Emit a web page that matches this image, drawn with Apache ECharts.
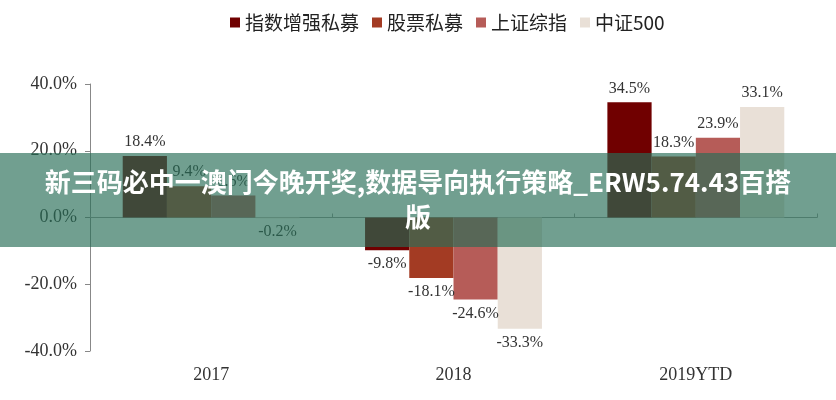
<!DOCTYPE html>
<html>
<head>
<meta charset="utf-8">
<script src="https://cdn.jsdelivr.net/npm/echarts@6/dist/echarts.min.js"></script>
<style>
  html, body { margin: 0; padding: 0; background: #fff; }
  #chart { width: 836px; height: 400px; }
</style>
</head>
<body>
<div id="chart"></div>
<script>
// 类目
const years = ['2017', '2018', '2019YTD'];
const seriesNames = ['指数增强私募', '股票私募', '上证综指', '中证500'];
// 各系列收益率 (%)
const indexEnhanced = [18.4, -9.8, 34.5];
const stockPrivate = [9.4, -18.1, 18.3];
const shComposite = [6.6, -24.6, 23.9];
const csi500 = [-0.2, -33.3, 33.1];
const yTicks = [-40, -20, 0, 20, 40];

const colors = ['#700000', '#a33b23', '#b65c58', '#e9e0d7'];
const serif = '"Liberation Serif", "DejaVu Serif", serif';
const bannerText = '新三码必中一澳门今晚开奖,数据导向执行策略_ERW5.74.43百搭\n版';

/**
 * 正值标签在上，负值标签在下
 */
const makeData = (values) => values.map(v => ({
  value: v,
  label: { position: v < 0 ? 'bottom' : 'top' },
}));

const allValues = [indexEnhanced, stockPrivate, shComposite, csi500];

const option = {
  color: colors,
  animation: false,
  legend: {
    top: 8,
    left: 225,
    icon: 'rect',
    itemWidth: 10,
    itemHeight: 10,
    itemGap: 13,
    textStyle: {
      fontFamily: '"Noto Sans CJK SC", sans-serif',
      fontSize: 19,
      color: '#222',
    },
    data: seriesNames,
  },
  grid: {
    top: 84,
    bottom: 49,
    left: 90,
    right: 19,
  },
  xAxis: [{
    type: 'category',
    data: years,
    position: 'bottom',
    axisLine: { show: false, onZero: false },
    axisTick: { show: false },
    axisLabel: {
      margin: 15,
      fontFamily: serif,
      fontSize: 18,
      color: '#333',
    },
  }, {
    type: 'category',
    data: years,
    position: 'top',
    axisLine: { onZero: true, lineStyle: { color: '#999' } },
    axisTick: { show: true, length: 4, lineStyle: { color: '#999' } },
    axisLabel: { show: false },
  }],
  yAxis: {
    type: 'value',
    min: yTicks[0],
    max: yTicks[yTicks.length - 1],
    interval: 20,
    splitLine: { show: false },
    axisLine: { show: true, lineStyle: { color: '#888' } },
    axisTick: { show: true, length: 5, lineStyle: { color: '#888' } },
    axisLabel: {
      margin: 13,
      fontFamily: serif,
      fontSize: 18,
      color: '#333',
      formatter: v => v.toFixed(1) + '%',
    },
  },
  series: seriesNames.map((name, i) => ({
    name,
    type: 'bar',
    xAxisIndex: 0,
    barGap: 0,
    barCategoryGap: '27%',
    label: {
      show: true,
      distance: 6,
      fontFamily: serif,
      fontSize: 16,
      color: '#333',
      formatter: p => p.value.toFixed(1) + '%',
    },
    data: makeData(allValues[i]),
  })),
  graphic: [{
    type: 'rect',
    z: 100,
    shape: { x: 0, y: 153, width: 836, height: 94 },
    style: { fill: 'rgba(39,109,86,0.66)' },
  }, {
    type: 'text',
    z: 101,
    x: 418,
    y: 200,
    style: {
      text: bannerText,
      fill: '#fff',
      font: 'bold 26px "Noto Sans CJK SC", sans-serif',
      lineHeight: 35,
      align: 'center',
      verticalAlign: 'middle',
    },
  }],
};

const myChart = echarts.init(document.getElementById('chart'));
myChart.setOption(option);
</script>
</body>
</html>
